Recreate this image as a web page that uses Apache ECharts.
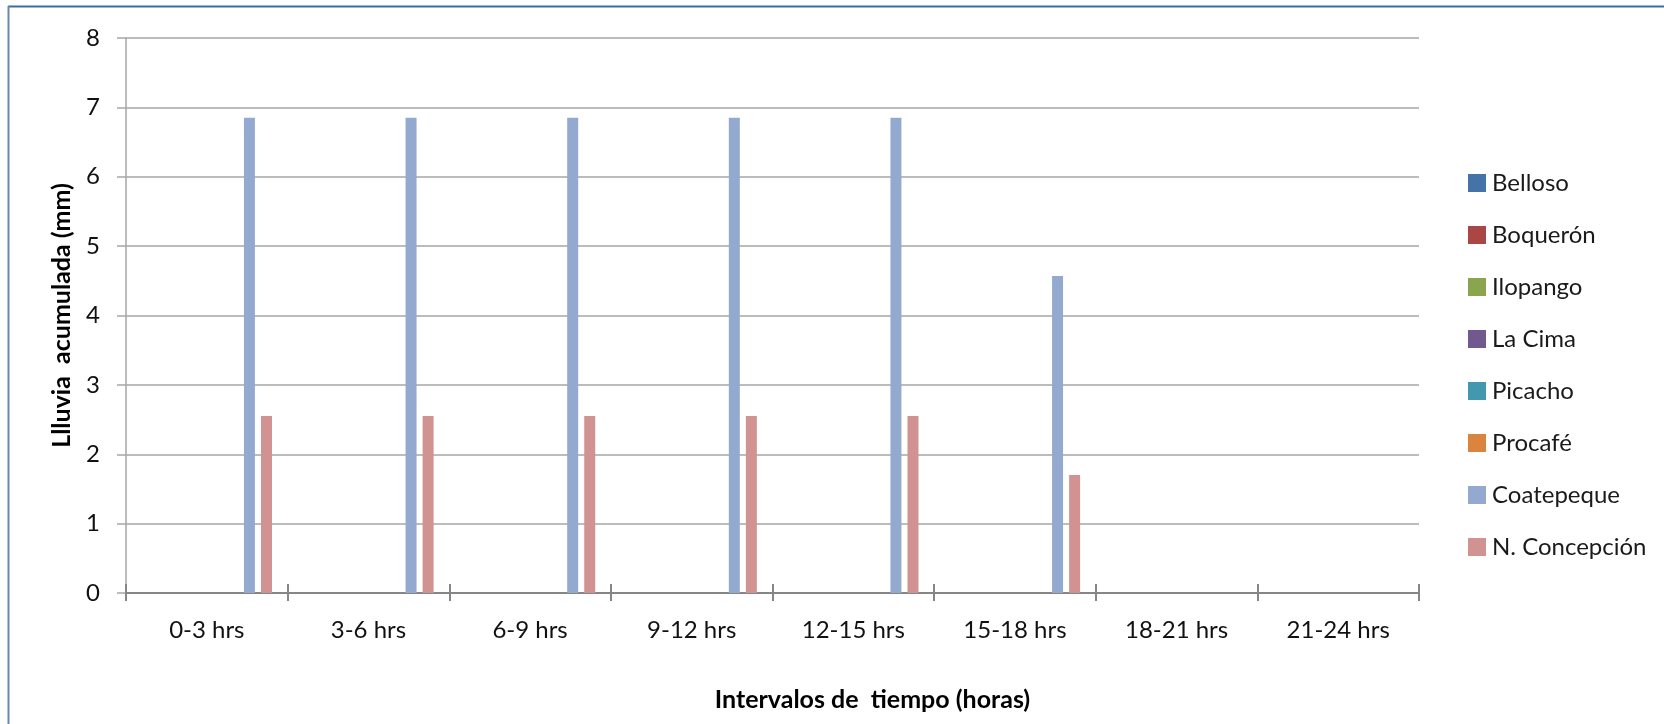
<!DOCTYPE html>
<html>
<head>
<meta charset="utf-8">
<script src="https://cdn.jsdelivr.net/npm/echarts@6/dist/echarts.min.js"></script>
<style>
  html, body { margin: 0; padding: 0; background: #fff; }
  #chart { width: 1664px; height: 724px; }
</style>
</head>
<body>
<div id="chart"></div>
<script>
// categorias (intervalos de 3 horas)
const categories = ['0-3 hrs', '3-6 hrs', '6-9 hrs', '9-12 hrs', '12-15 hrs', '15-18 hrs', '18-21 hrs', '21-24 hrs'];

// lluvia acumulada por estacion (mm)
const belloso     = [0, 0, 0, 0, 0, 0, 0, 0];
const boqueron    = [0, 0, 0, 0, 0, 0, 0, 0];
const ilopango    = [0, 0, 0, 0, 0, 0, 0, 0];
const laCima      = [0, 0, 0, 0, 0, 0, 0, 0];
const picacho     = [0, 0, 0, 0, 0, 0, 0, 0];
const procafe     = [0, 0, 0, 0, 0, 0, 0, 0];
const coatepeque  = [6.85, 6.85, 6.85, 6.85, 6.85, 4.57, 0, 0];
const nConcepcion = [2.55, 2.55, 2.55, 2.55, 2.55, 1.7, 0, 0];

const stations = [
  { name: 'Belloso', data: belloso, color: '#4572a7' },
  { name: 'Boquerón', data: boqueron, color: '#aa4643' },
  { name: 'Ilopango', data: ilopango, color: '#89a54e' },
  { name: 'La Cima', data: laCima, color: '#71588f' },
  { name: 'Picacho', data: picacho, color: '#4198af' },
  { name: 'Procafé', data: procafe, color: '#db843d' },
  { name: 'Coatepeque', data: coatepeque, color: '#93a9cf' },
  { name: 'N. Concepción', data: nConcepcion, color: '#d19392' }
];

const font = 'Lato, "Open Sans", sans-serif';
const myChart = echarts.init(document.getElementById('chart'));

const seriesArr = stations.map(s => ({
  name: s.name,
  type: 'bar',
  data: s.data,
  barWidth: 11,
  barGap: '55%',
  itemStyle: { color: s.color },
  silent: true
}));

const option = {
  animation: false,
  textStyle: { fontFamily: font },
  graphic: [
    // marco azul del grafico
    { type: 'line', shape: { x1: 8, y1: 6.5, x2: 1664, y2: 6.5 }, style: { stroke: '#3d6aa6', lineWidth: 2 } },
    { type: 'line', shape: { x1: 8.5, y1: 6, x2: 8.5, y2: 724 }, style: { stroke: '#6a88b4', lineWidth: 2 } }
  ],
  grid: { left: 126, right: 245, top: 38, bottom: 131 },
  legend: {
    orient: 'vertical',
    left: 1463,
    top: 166,
    itemWidth: 18,
    itemHeight: 18,
    itemGap: 28,
    icon: 'rect',
    textStyle: { fontSize: 24, color: '#1a1a1a', fontFamily: font, padding: [0, 0, 0, 1] },
    data: stations.map(s => s.name)
  },
  xAxis: [
    {
      type: 'category',
      data: categories,
      name: 'Intervalos de  tiempo (horas)',
      nameLocation: 'middle',
      nameGap: 94,
      // el titulo esta desplazado a la derecha del centro del area
      nameTextStyle: { fontSize: 25, fontWeight: 'bold', color: '#000', fontFamily: font, padding: [0, 0, 0, 200] },
      axisLine: { show: true, lineStyle: { color: '#868686', width: 2 } },
      axisTick: { show: true, alignWithLabel: false, length: 8, lineStyle: { color: '#868686', width: 2 } },
      axisLabel: { fontSize: 24, color: '#111', margin: 25, fontFamily: font }
    },
    {
      // marcas hacia dentro para que crucen el eje
      type: 'category',
      data: categories,
      position: 'bottom',
      axisLine: { show: false },
      axisTick: { show: true, inside: true, length: 9, lineStyle: { color: '#868686', width: 2 } },
      axisLabel: { show: false }
    }
  ],
  yAxis: {
    type: 'value',
    min: 0,
    max: 8,
    interval: 1,
    name: 'Llluvia  acumulada (mm)',
    nameLocation: 'middle',
    nameGap: 52,
    nameTextStyle: { fontSize: 25, fontWeight: 'bold', color: '#000', fontFamily: font },
    axisLine: { show: true, lineStyle: { color: '#a6a6a6', width: 1.5 } },
    axisTick: { show: true, length: 9, lineStyle: { color: '#a6a6a6', width: 1.5 } },
    axisLabel: { fontSize: 24, color: '#111', margin: 26, fontFamily: font },
    splitLine: { show: true, lineStyle: { color: '#a6a6a6', width: 1.5 } }
  },
  series: seriesArr
};

myChart.setOption(option);
window.addEventListener('resize', function () {
  myChart.resize();
});
</script>
</body>
</html>
